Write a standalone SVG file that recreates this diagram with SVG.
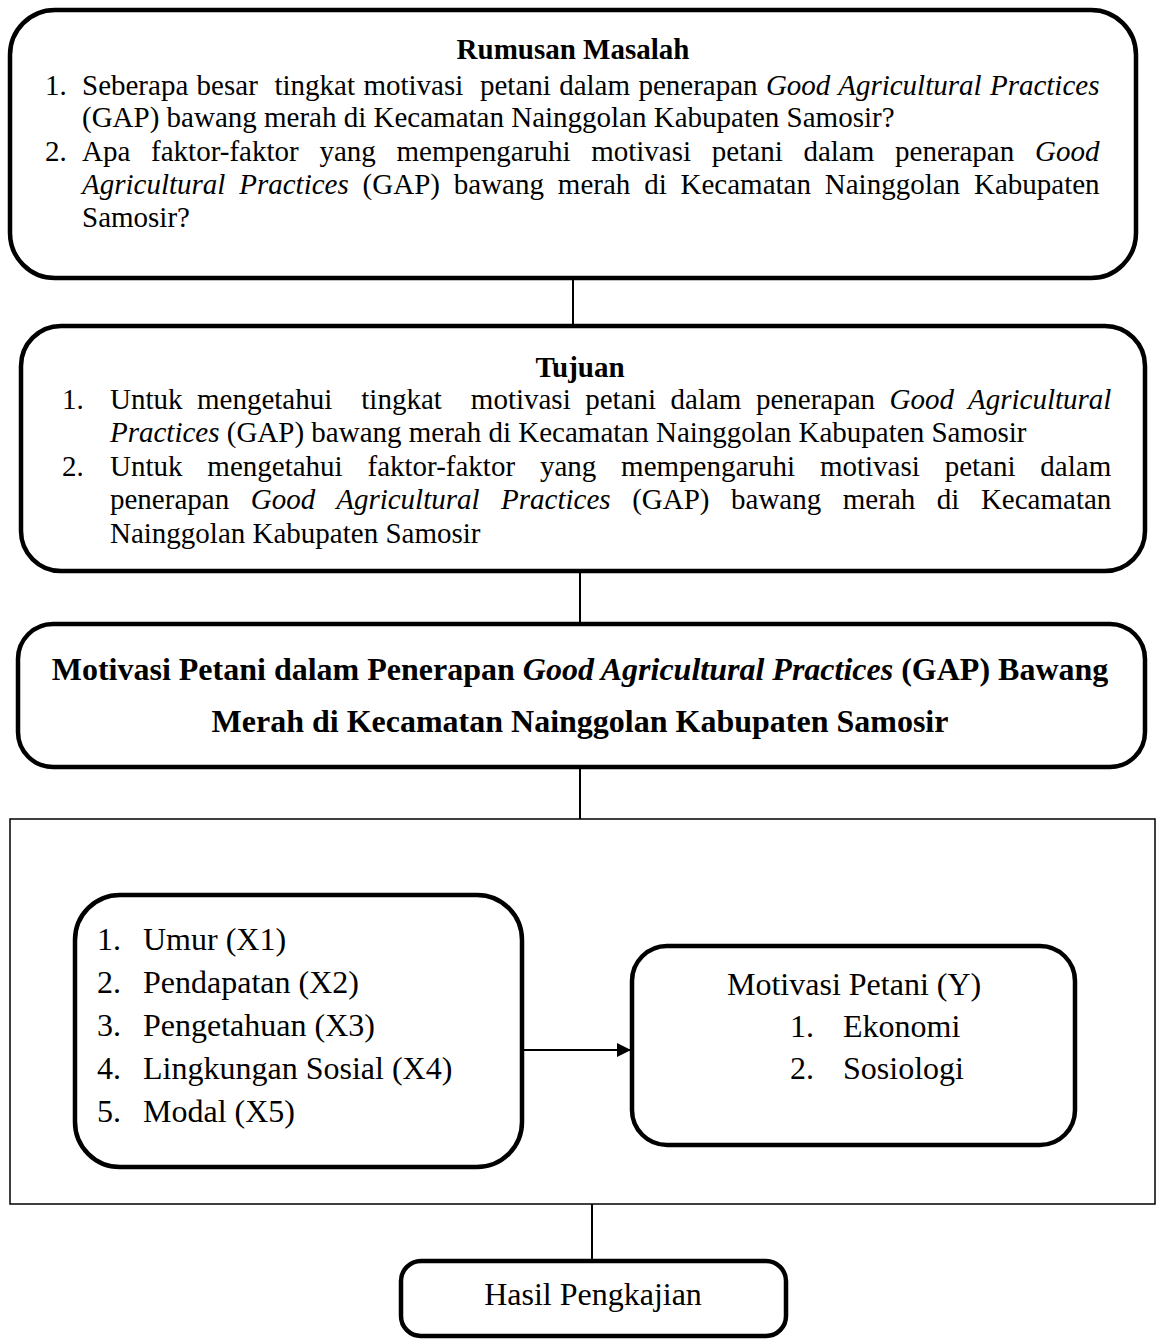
<svg xmlns="http://www.w3.org/2000/svg" width="1157" height="1340" viewBox="0 0 1157 1340">
<defs>
<style>
.box{fill:#fff;stroke:#000;stroke-width:4.5}
.frame{fill:none;stroke:#000;stroke-width:1.5}
.con{stroke:#000;stroke-width:2;fill:none}
.t{font-family:"Liberation Serif","Times New Roman",serif;font-size:29px;fill:#000}
.tb{font-family:"Liberation Serif","Times New Roman",serif;font-size:29px;font-weight:bold;fill:#000}
.tl{font-family:"Liberation Serif","Times New Roman",serif;font-size:32px;fill:#000}
.tlb{font-family:"Liberation Serif","Times New Roman",serif;font-size:32px;font-weight:bold;fill:#000}
.i{font-style:italic}
</style>
<marker id="ah" markerWidth="14" markerHeight="14" refX="13" refY="7" orient="auto" markerUnits="userSpaceOnUse">
<path d="M0,0 L14,7 L0,14 Z" fill="#000"/>
</marker>
<clipPath id="c2"><rect x="20" y="325" width="1130" height="224"/></clipPath>
</defs>

<g id="rumusan">
<rect class="box" x="10" y="10" width="1126" height="268" rx="45" ry="45"/>
<text class="tb" x="573" y="59" text-anchor="middle">Rumusan Masalah</text>
<text class="t" x="45" y="95">1.</text>
<text class="t" x="82" y="95" xml:space="preserve" word-spacing="1.1">Seberapa besar  tingkat motivasi  petani dalam penerapan <tspan class="i">Good Agricultural Practices</tspan></text>
<text class="t" x="82" y="127">(GAP) bawang merah di Kecamatan Nainggolan Kabupaten Samosir?</text>
<text class="t" x="45" y="161">2.</text>
<text class="t" x="82" y="161" word-spacing="13.5">Apa faktor-faktor yang mempengaruhi motivasi petani dalam penerapan <tspan class="i">Good</tspan></text>
<text class="t" x="82" y="194" word-spacing="6.6"><tspan class="i">Agricultural Practices</tspan> (GAP) bawang merah di Kecamatan Nainggolan Kabupaten</text>
<text class="t" x="82" y="227">Samosir?</text>
</g>

<g id="tujuan">
<rect class="box" x="21" y="326" width="1124" height="245" rx="40" ry="40"/>
<text class="tb" x="580" y="377" text-anchor="middle">Tujuan</text>
<g clip-path="url(#c2)">
<text class="t" x="62" y="409">1.</text>
<text class="t" x="110" y="409" xml:space="preserve" word-spacing="7.25">Untuk mengetahui  tingkat  motivasi petani dalam penerapan <tspan class="i">Good Agricultural</tspan></text>
<text class="t" x="110" y="442"><tspan class="i">Practices</tspan> (GAP) bawang merah di Kecamatan Nainggolan Kabupaten Samosir</text>
<text class="t" x="62" y="476">2.</text>
<text class="t" x="110" y="476" word-spacing="17.6">Untuk mengetahui faktor-faktor yang mempengaruhi motivasi petani dalam</text>
<text class="t" x="110" y="509" word-spacing="14.3">penerapan <tspan class="i">Good Agricultural Practices</tspan> (GAP) bawang merah di Kecamatan</text>
<text class="t" x="110" y="543">Nainggolan Kabupaten Samosir</text>
</g>
</g>

<g id="judul">
<rect class="box" x="18" y="624" width="1127" height="143" rx="35" ry="35"/>
<text class="tlb" x="580" y="680" text-anchor="middle">Motivasi Petani dalam Penerapan <tspan class="i">Good Agricultural Practices</tspan> (GAP) Bawang</text>
<text class="tlb" x="580" y="732" text-anchor="middle">Merah di Kecamatan Nainggolan Kabupaten Samosir</text>
</g>

<g id="kerangka">
<rect class="frame" x="10" y="819" width="1145" height="385"/>
</g>

<g id="variabel-x">
<rect class="box" x="75" y="895" width="447" height="272" rx="45" ry="45"/>
<text class="tl" x="97" y="950">1.</text><text class="tl" x="143" y="950">Umur (X1)</text>
<text class="tl" x="97" y="993">2.</text><text class="tl" x="143" y="993">Pendapatan (X2)</text>
<text class="tl" x="97" y="1036">3.</text><text class="tl" x="143" y="1036">Pengetahuan (X3)</text>
<text class="tl" x="97" y="1079">4.</text><text class="tl" x="143" y="1079">Lingkungan Sosial (X4)</text>
<text class="tl" x="97" y="1122">5.</text><text class="tl" x="143" y="1122">Modal (X5)</text>
</g>

<g id="variabel-y">
<rect class="box" x="632" y="946" width="443" height="199" rx="35" ry="35"/>
<text class="tl" x="727" y="995">Motivasi Petani (Y)</text>
<text class="tl" x="790" y="1037">1.</text><text class="tl" x="843" y="1037">Ekonomi</text>
<text class="tl" x="790" y="1079">2.</text><text class="tl" x="843" y="1079">Sosiologi</text>
</g>

<g id="hasil">
<rect class="box" x="401" y="1261" width="385" height="75" rx="20" ry="20"/>
<text class="tl" x="593" y="1305" text-anchor="middle">Hasil Pengkajian</text>
</g>

<g id="connectors">
<line class="con" x1="573" y1="280" x2="573" y2="324"/>
<line class="con" x1="580" y1="573" x2="580" y2="622"/>
<line class="con" x1="580" y1="769" x2="580" y2="819"/>
<line class="con" x1="524" y1="1050" x2="630" y2="1050" marker-end="url(#ah)"/>
<line class="con" x1="592" y1="1204" x2="592" y2="1259"/>
</g>
</svg>
